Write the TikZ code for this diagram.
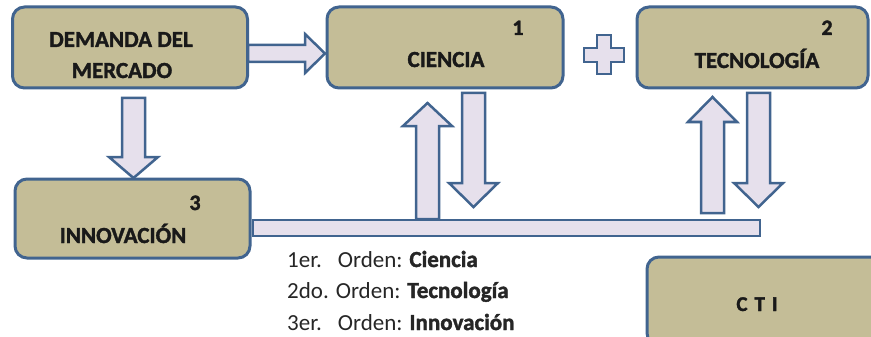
\documentclass[tikz,border=0pt]{standalone}
\usepackage{fontspec}
\setmainfont{Carlito}[BoldFeatures={FakeBold=1.6}]
\usetikzlibrary{positioning}

\definecolor{boxtan}{HTML}{C4BD97}
\definecolor{boxblue}{HTML}{41648F}
\definecolor{arrowlilac}{HTML}{E6E0EC}

\tikzset{
  stagebox/.style={draw=boxblue, line width=3pt, fill=boxtan, rounded corners=12pt, inner sep=0pt},
  blockarrow/.style={draw=boxblue, line width=2.5pt, fill=arrowlilac, line join=miter},
  boxlabel/.style={font=\bfseries\fontsize{23}{27}\selectfont, anchor=base, inner sep=0pt, text=black!90},
  boxnum/.style={font=\bfseries\fontsize{22}{26}\selectfont, anchor=base, inner sep=0pt, text=black!90},
  listtext/.style={font=\fontsize{23}{27}\selectfont, anchor=base west, inner sep=0pt, text=black!85}
}

% vertical block arrow: x, tail, head base, tip
\newcommand{\blockarrowv}[4]{%
  \draw[blockarrow] ({#1-11.5},#2) -- ({#1+11.5},#2) -- ({#1+11.5},#3) -- ({#1+24.5},#3)
    -- (#1,#4) -- ({#1-24.5},#3) -- ({#1-11.5},#3) -- cycle;}

\begin{document}
\begin{tikzpicture}[x=1pt, y=-1pt]
    \useasboundingbox (0,0) rectangle (871,337);

    % boxes
    \node[stagebox, minimum width=235pt, minimum height=81pt] (demanda) at (130, 47.5) {};
    \node[stagebox, minimum width=236pt, minimum height=81pt] (ciencia) at (445, 47.5) {};
    \node[stagebox, minimum width=231pt, minimum height=81pt] (tecno) at (752.5, 47.5) {};
    \node[stagebox, minimum width=235pt, minimum height=79pt] (innov) at (132.5, 218.5) {};
    \node[stagebox, minimum width=243pt, minimum height=88pt] (cti) at (768.5, 301) {};

    % labels
    \node[boxlabel] (demandaA) at (121, 47) {DEMANDA DEL};
    \node[boxlabel] (demandaB) at (122, 78) {MERCADO};
    \node[boxlabel] (cienciaL) at (446, 67) {CIENCIA};
    \node[boxnum] (cienciaN) at (518, 35) {1};
    \node[boxlabel] (tecnoL) at (757, 68) {TECNOLOGÍA};
    \node[boxnum] (tecnoN) at (827, 35) {2};
    \node[boxlabel] (innovL) at (123, 243) {INNOVACIÓN};
    \node[boxnum] (innovN) at (195, 210) {3};
    \node[boxlabel, font=\bfseries\fontsize{21}{25}\selectfont] (ctiL) at (757, 311) {C\,\,T\,\,I};

    % plus sign
    \draw[blockarrow] (597,35) -- (611,35) -- (611,48) -- (624,48) -- (624,62) -- (611,62)
      -- (611,74) -- (597,74) -- (597,62) -- (584,62) -- (584,48) -- (597,48) -- cycle;

    % arrows
    \draw[blockarrow] (248,45) -- (305,45) -- (305,34) -- (325,53.5) -- (305,73) -- (305,62) -- (248,62) -- cycle;
    \blockarrowv{133.5}{98}{157}{178}
    \blockarrowv{427.5}{219}{126}{103}
    \blockarrowv{473.5}{93}{183}{207}
    \blockarrowv{712.5}{213}{122}{97}
    \blockarrowv{758.5}{93}{183}{207}

    % bar
    \draw[blockarrow] (253,220) rectangle (760,236);

    % order list
    \node[listtext] (ordenA) at (287, 267) {1er.\hspace{16pt}Orden: \textbf{Ciencia}};
    \node[listtext] (ordenB) at (287, 298) {2do. Orden: \textbf{Tecnología}};
    \node[listtext] (ordenC) at (287, 330) {3er.\hspace{16pt}Orden: \textbf{Innovación}};
\end{tikzpicture}
\end{document}
